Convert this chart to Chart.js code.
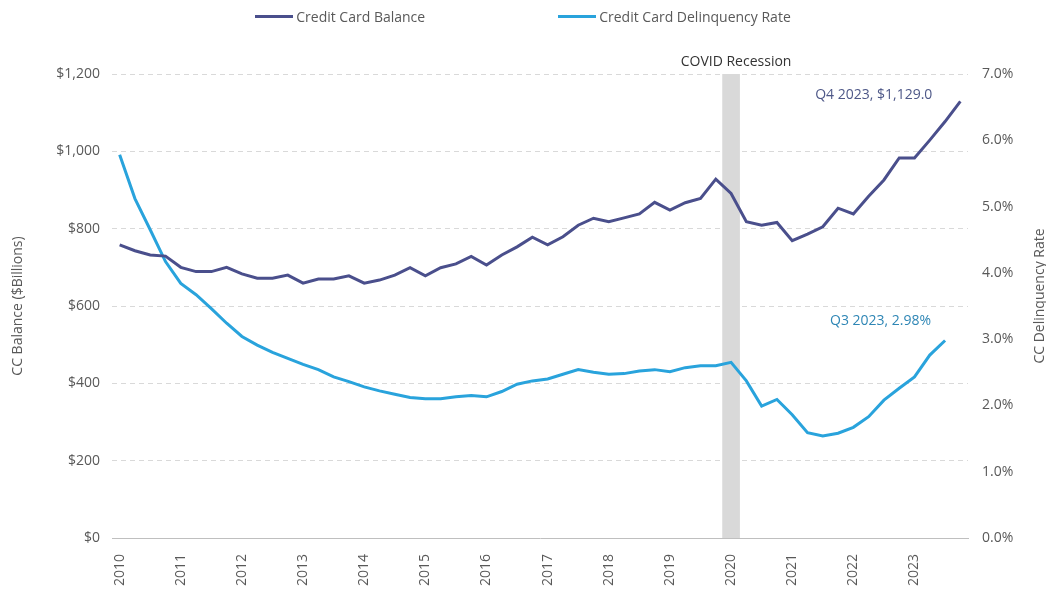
<!DOCTYPE html>
<html>
<head>
<meta charset="utf-8">
<title>Credit Card Balance and Delinquency Rate</title>
<script src="https://cdn.jsdelivr.net/npm/chart.js@4.4.1/dist/chart.umd.min.js"></script>
<style>
  html, body { margin: 0; padding: 0; background: #fff; }
  #wrap { position: relative; width: 1046px; height: 592px; }
  #legend {
    position: absolute; top: 7px; left: 0; width: 1046px;
    display: flex; justify-content: center; gap: 133px;
    font: 14px "Open Sans", sans-serif; color: #595959;
  }
  #legend .item { display: flex; align-items: center; }
  #legend .swatch { width: 38px; height: 3px; margin-right: 3px; }
</style>
</head>
<body>
<div id="wrap">
  <canvas id="ccChart" width="1046" height="592"></canvas>
  <div id="legend"></div>
</div>
<script>
// quarterly categories, 2010 Q1 .. 2023 Q4
const years = [2010, 2011, 2012, 2013, 2014, 2015, 2016, 2017, 2018, 2019, 2020, 2021, 2022, 2023];
const quarterNames = ["Q1", "Q2", "Q3", "Q4"];
const quarters = [];
years.forEach(y => quarterNames.forEach(q => quarters.push(y + " " + q)));

// credit card balance, $ billions
const balance = [
  758, 743, 732, 729,
  700, 689, 689, 700,
  683, 672, 672, 680,
  659, 670, 670, 678,
  659, 667, 680, 699,
  678, 699, 709, 728,
  706, 732, 753, 778,
  758, 779, 809, 827,
  818, 828, 838, 868,
  848, 867, 878, 928,
  891, 818, 809, 816,
  769, 786, 805, 853,
  838, 884, 926, 983,
  983, 1029, 1077, 1129
];

// 90+ day delinquency rate, percent (no Q4 2023 reading)
const delinquency = [
  5.78, 5.12, 4.65, 4.17,
  3.84, 3.67, 3.46, 3.24,
  3.04, 2.91, 2.80, 2.71,
  2.62, 2.54, 2.43, 2.36,
  2.28, 2.22, 2.17, 2.12,
  2.10, 2.10, 2.13, 2.15,
  2.13, 2.21, 2.32, 2.37,
  2.40, 2.47, 2.54, 2.50,
  2.47, 2.48, 2.52, 2.54,
  2.51, 2.57, 2.60, 2.60,
  2.65, 2.37, 1.99, 2.09,
  1.86, 1.59, 1.54, 1.58,
  1.67, 1.83, 2.08, 2.26,
  2.43, 2.76, 2.98, null
];

// shaded recession quarter
const recessionQuarters = ["2020 Q1"];
const recessionLabel = "COVID Recession";

// axis ranges
const balanceTicks = [0, 1200, 200];
const rateTicks = [0, 7, 1];

const balanceColor = "#4A4F8C";
const rateColor = "#29A3DC";
const textColor = "#595959";
const font = "'Open Sans', sans-serif";

const recessionBars = quarters.map(q => recessionQuarters.includes(q) ? rateTicks[1] : null);

function lastIndex(arr) {
  for (let i = arr.length - 1; i >= 0; i--) if (arr[i] !== null) return i;
  return -1;
}

// end-of-series labels, recession caption and right axis title
const notesPlugin = {
  id: "notes",
  afterDatasetsDraw(chart) {
    const { ctx, chartArea } = chart;
    ctx.save();
    ctx.font = "14px " + font;
    ctx.textBaseline = "middle";

    // recession caption above the band
    const barMeta = chart.getDatasetMeta(2);
    const bar = barMeta.data[quarters.indexOf(recessionQuarters[0])];
    ctx.fillStyle = "#333333";
    ctx.textAlign = "center";
    ctx.fillText(recessionLabel, bar.x + 5, chartArea.top - 12);

    // balance end label
    const bi = lastIndex(balance);
    const bp = chart.getDatasetMeta(0).data[bi];
    ctx.fillStyle = "#4E5888";
    ctx.textAlign = "right";
    ctx.fillText(quarters[bi].split(" ")[1] + " " + quarters[bi].split(" ")[0] + ", $" +
      balance[bi].toLocaleString("en-US", { minimumFractionDigits: 1 }), bp.x - 28, bp.y - 6);

    // delinquency end label
    const di = lastIndex(delinquency);
    const dp = chart.getDatasetMeta(1).data[di];
    ctx.fillStyle = "#2E86B5";
    ctx.fillText(quarters[di].split(" ")[1] + " " + quarters[di].split(" ")[0] + ", " +
      delinquency[di].toFixed(2) + "%", dp.x - 14, dp.y - 19);

    // right axis title, reading bottom to top
    const y1 = chart.scales.y1;
    ctx.fillStyle = textColor;
    ctx.textAlign = "center";
    ctx.translate(y1.right - 6, (chartArea.top + chartArea.bottom) / 2 - 10);
    ctx.rotate(-Math.PI / 2);
    ctx.fillText("CC Delinquency Rate", 0, 0);
    ctx.restore();
  }
};

const chart = new Chart(document.getElementById("ccChart"), {
  type: "line",
  data: {
    labels: quarters,
    datasets: [
      {
        label: "Credit Card Balance",
        data: balance,
        yAxisID: "y",
        borderColor: balanceColor,
        backgroundColor: balanceColor,
        borderWidth: 3,
        pointRadius: 0,
        tension: 0,
        order: 1
      },
      {
        label: "Credit Card Delinquency Rate",
        data: delinquency,
        yAxisID: "y1",
        borderColor: rateColor,
        backgroundColor: rateColor,
        borderWidth: 3,
        pointRadius: 0,
        tension: 0,
        spanGaps: false,
        order: 2
      },
      {
        type: "bar",
        label: recessionLabel,
        data: recessionBars,
        yAxisID: "y1",
        backgroundColor: "#D9D9D9",
        barThickness: 17,
        order: 3
      }
    ]
  },
  options: {
    responsive: false,
    animation: false,
    layout: { padding: { top: 74, left: 0, right: 0, bottom: 0 } },
    plugins: {
      legend: { display: false },
      tooltip: { enabled: false }
    },
    scales: {
      x: {
        type: "category",
        offset: true,
        grid: { display: false },
        border: { display: true, color: "#BFBFBF", width: 1 },
        ticks: {
          autoSkip: false,
          minRotation: 90,
          maxRotation: 90,
          padding: 8,
          color: textColor,
          font: { family: font, size: 14 },
          callback: (v, i) => i % 4 === 0 ? quarters[i].split(" ")[0] : null
        },
        afterFit: s => { s.height = 54; }
      },
      y: {
        position: "left",
        min: balanceTicks[0],
        max: balanceTicks[1],
        grid: {
          color: ctx => ctx.tick.value === 0 ? "rgba(0,0,0,0)" : "#D9D9D9",
          drawTicks: false
        },
        border: { display: false, dash: [5, 4] },
        ticks: {
          stepSize: balanceTicks[2],
          padding: 12,
          color: textColor,
          font: { family: font, size: 14 },
          callback: v => "$" + v.toLocaleString("en-US")
        },
        title: {
          display: true,
          text: "CC Balance ($Billions)",
          color: textColor,
          font: { family: font, size: 14 },
          padding: { top: 10, bottom: 0 }
        },
        afterFit: s => { s.width = 112; }
      },
      y1: {
        position: "right",
        min: rateTicks[0],
        max: rateTicks[1],
        grid: { display: false, drawTicks: false },
        border: { display: false },
        ticks: {
          stepSize: rateTicks[2],
          padding: 14,
          color: textColor,
          font: { family: font, size: 14 },
          callback: v => v.toFixed(1) + "%"
        },
        afterFit: s => { s.width = 78; }
      }
    }
  },
  plugins: [notesPlugin]
});

// legend row for the two series
const legend = document.getElementById("legend");
chart.data.datasets.slice(0, 2).forEach(ds => {
  const item = document.createElement("div");
  item.className = "item";
  const sw = document.createElement("span");
  sw.className = "swatch";
  sw.style.background = ds.borderColor;
  const txt = document.createElement("span");
  txt.textContent = ds.label;
  item.appendChild(sw);
  item.appendChild(txt);
  legend.appendChild(item);
});
</script>
</body>
</html>
